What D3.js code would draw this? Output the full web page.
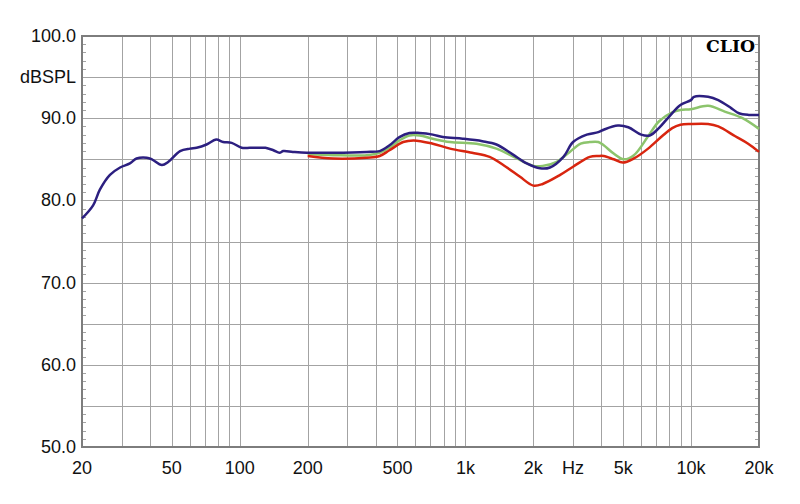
<!DOCTYPE html>
<html>
<head>
<meta charset="utf-8">
<script src="https://cdn.jsdelivr.net/npm/d3@7"></script>
<style>
  body { margin: 0; background: #fff; }
  svg { display: block; }
</style>
</head>
<body>
<svg width="800" height="504"></svg>
<script>
// frequency response data (Hz, dBSPL)
var blueFreq = [20, 22.4, 24, 26.6, 29.5, 32.6, 34.9, 38.7, 40.8, 45.2, 48.3, 54.4, 60.2, 64.4, 71.3, 78.6, 84.4, 92.1, 102, 111, 122, 130, 141, 150, 156, 172, 198, 260, 366, 417, 461, 510, 565, 627, 717, 795, 973, 1189, 1373, 1620, 1870, 2140, 2370, 2720, 3000, 3450, 3880, 4100, 4740, 5270, 6010, 6560, 7200, 8000, 8970, 9980, 10300, 11900, 13200, 15100, 16300, 18000, 20000];
var blueDb = [77.8, 79.4, 81.3, 83.1, 84.0, 84.5, 85.1, 85.2, 85.0, 84.3, 84.7, 86.0, 86.3, 86.4, 86.8, 87.4, 87.1, 87.0, 86.4, 86.4, 86.4, 86.4, 86.1, 85.8, 86.0, 85.9, 85.8, 85.8, 85.9, 86.0, 86.7, 87.7, 88.2, 88.2, 88.0, 87.7, 87.5, 87.2, 86.8, 85.6, 84.5, 83.9, 84.0, 85.3, 87.1, 88.0, 88.3, 88.6, 89.1, 88.9, 88.0, 87.9, 88.8, 90.2, 91.6, 92.2, 92.6, 92.6, 92.2, 91.2, 90.6, 90.4, 90.4];

var greenFreq = [200, 260, 366, 417, 461, 510, 565, 627, 717, 855, 1120, 1373, 1690, 2000, 2200, 2540, 2900, 3240, 3560, 3880, 4100, 4540, 5030, 5580, 6450, 7200, 8250, 8970, 9980, 11900, 14100, 16900, 20000];
var greenDb = [85.6, 85.5, 85.5, 85.8, 86.4, 87.3, 87.9, 87.9, 87.5, 87.1, 86.9, 86.3, 85.1, 84.2, 84.2, 84.7, 85.9, 86.9, 87.1, 87.1, 86.7, 85.7, 85.0, 85.5, 87.8, 89.6, 90.7, 91.0, 91.1, 91.5, 90.8, 90.0, 88.7];

var redFreq = [200, 259, 366, 417, 461, 530, 590, 717, 855, 1070, 1280, 1510, 1740, 2000, 2200, 2630, 3000, 3560, 3880, 4100, 4540, 4980, 5580, 6450, 7430, 8250, 8970, 9980, 11900, 13200, 15700, 17900, 20000];
var redDb = [85.4, 85.1, 85.2, 85.4, 86.1, 87.1, 87.3, 86.9, 86.3, 85.8, 85.3, 84.1, 82.9, 81.8, 82.0, 83.1, 84.1, 85.3, 85.4, 85.4, 85.0, 84.6, 85.1, 86.3, 87.8, 88.8, 89.2, 89.3, 89.3, 89.0, 87.8, 86.9, 85.9];

// axis ticks
var xGrid = [30, 40, 50, 60, 70, 80, 90, 100, 200, 300, 400, 500, 600, 700, 800, 900, 1000, 2000, 3000, 4000, 5000, 6000, 7000, 8000, 9000, 10000];
var xLabels = [[20, "20"], [50, "50"], [100, "100"], [200, "200"], [500, "500"], [1000, "1k"], [2000, "2k"], [3000, "Hz"], [5000, "5k"], [10000, "10k"], [20000, "20k"]];
var yLabels = [[100, "100.0"], [95, "dBSPL"], [90, "90.0"], [80, "80.0"], [70, "70.0"], [60, "60.0"], [50, "50.0"]];

var svg = d3.select("svg"),
  plotLeft = 82,
  plotTop = 36,
  plotRight = 759,
  plotBottom = 447;

var xScale = d3.scaleLog().domain([20, 20000]).range([plotLeft, plotRight]);
var yScale = d3.scaleLinear().domain([50, 100]).range([plotBottom, plotTop]);

var grid = svg.append("g").attr("stroke", "#a3a3a3").attr("stroke-width", 1);

// vertical grid lines
grid.selectAll(".vg")
  .data(xGrid)
  .enter()
  .append("line")
  .attr("x1", (d) => Math.round(xScale(d)) + 0.5)
  .attr("x2", (d) => Math.round(xScale(d)) + 0.5)
  .attr("y1", plotTop)
  .attr("y2", plotBottom);

// horizontal grid lines every 5 dB
grid.selectAll(".hg")
  .data(d3.range(55, 100, 5))
  .enter()
  .append("line")
  .attr("x1", plotLeft)
  .attr("x2", plotRight)
  .attr("y1", (d) => Math.round(yScale(d)) + 0.5)
  .attr("y2", (d) => Math.round(yScale(d)) + 0.5);

// minor 1 dB ticks on both sides
var minor = d3.range(51, 100).filter((d) => d % 5 != 0);
grid.selectAll(".tl")
  .data(minor)
  .enter()
  .append("line")
  .attr("x1", plotLeft)
  .attr("x2", plotLeft + 4)
  .attr("y1", (d) => Math.round(yScale(d)) + 0.5)
  .attr("y2", (d) => Math.round(yScale(d)) + 0.5);
grid.selectAll(".tr")
  .data(minor)
  .enter()
  .append("line")
  .attr("x1", plotRight - 4)
  .attr("x2", plotRight)
  .attr("y1", (d) => Math.round(yScale(d)) + 0.5)
  .attr("y2", (d) => Math.round(yScale(d)) + 0.5);

// frame
svg.append("rect")
  .attr("x", plotLeft)
  .attr("y", plotTop)
  .attr("width", plotRight - plotLeft)
  .attr("height", plotBottom - plotTop)
  .attr("fill", "none")
  .attr("stroke", "#7d7d7d")
  .attr("stroke-width", 2);

// curves
var line = d3.line()
  .x((d) => xScale(d[0]))
  .y((d) => yScale(d[1]))
  .curve(d3.curveCatmullRom);

var series = [
  [greenFreq, greenDb, "#8cc46c"],
  [redFreq, redDb, "#d8250f"],
  [blueFreq, blueDb, "#2c1f80"]
];

svg.selectAll(".curve")
  .data(series)
  .enter()
  .append("path")
  .attr("d", (s) => line(d3.zip(s[0], s[1])))
  .attr("fill", "none")
  .attr("stroke", (s) => s[2])
  .attr("stroke-width", 2.5)
  .attr("stroke-linejoin", "round");

// y labels
svg.selectAll(".yl")
  .data(yLabels)
  .enter()
  .append("text")
  .attr("x", 76)
  .attr("y", (d) => yScale(d[0]) + 6)
  .attr("text-anchor", "end")
  .attr("font-family", "Liberation Sans, Arial, sans-serif")
  .attr("font-size", "18px")
  .attr("fill", "#111")
  .text((d) => d[1]);

// x labels
svg.selectAll(".xl")
  .data(xLabels)
  .enter()
  .append("text")
  .attr("x", (d) => xScale(d[0]))
  .attr("y", 474)
  .attr("text-anchor", "middle")
  .attr("font-family", "Liberation Sans, Arial, sans-serif")
  .attr("font-size", "18px")
  .attr("fill", "#111")
  .text((d) => d[1]);

// logo
svg.append("text")
  .attr("x", 755)
  .attr("y", 52)
  .attr("text-anchor", "end")
  .attr("font-family", "DejaVu Serif, serif")
  .attr("font-weight", "bold")
  .attr("font-size", "16px")
  .attr("textLength", 49)
  .attr("lengthAdjust", "spacingAndGlyphs")
  .attr("fill", "#000")
  .text("CLIO");
</script>
</body>
</html>
